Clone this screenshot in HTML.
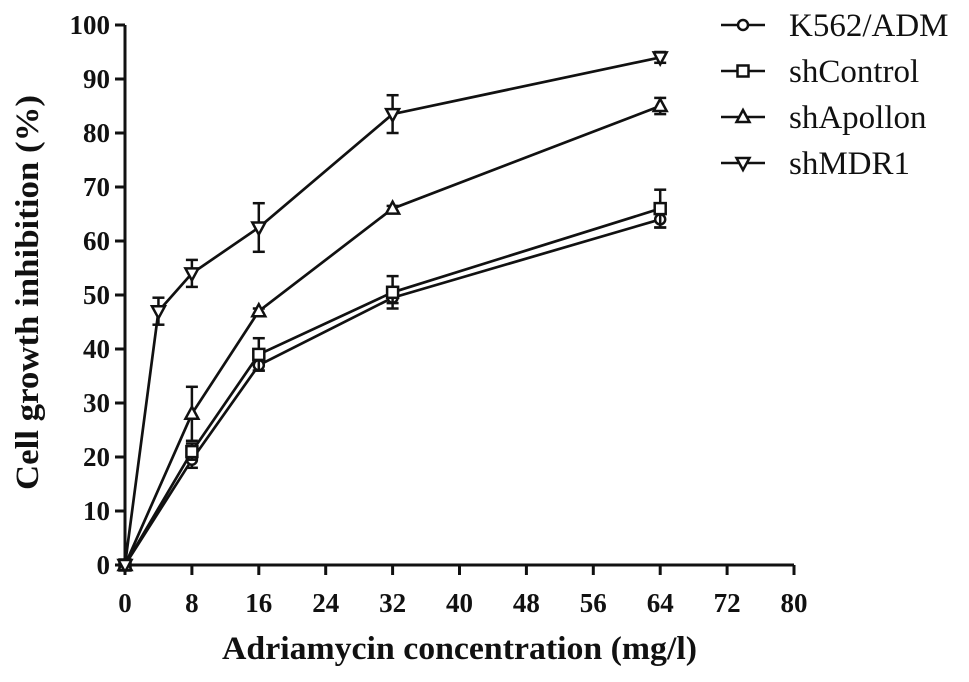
<!DOCTYPE html>
<html><head><meta charset="utf-8"><style>
body{margin:0;background:#fff;}
svg text{font-family:"Liberation Serif",serif;fill:#111;}
</style></head><body>
<svg id="chart" width="969" height="677" viewBox="0 0 969 677"></svg>
<script>
const xTicks=[0,8,16,24,32,40,48,56,64,72,80];
const yTicks=[0,10,20,30,40,50,60,70,80,90,100];
const seriesNames=["K562/ADM","shControl","shApollon","shMDR1"];
const markers=["circle","square","triangle","invtriangle"];
const k562X=[0,8,16,32,64], k562Y=[0,19.5,37,49.5,64], k562E=[0,1.5,1,1,1.5];
const ctrlX=[0,8,16,32,64], ctrlY=[0,21,39,50.5,66], ctrlE=[0,1.5,3,3,3.5];
const apoX=[0,8,16,32,64], apoY=[0,28,47,66,85], apoE=[0,5,0.5,0.5,1.5];
const mdrX=[0,4,8,16,32,64], mdrY=[0,47,54,62.5,83.5,94], mdrE=[0,2.5,2.5,4.5,3.5,1];
const allX=[k562X,ctrlX,apoX,mdrX], allY=[k562Y,ctrlY,apoY,mdrY], allE=[k562E,ctrlE,apoE,mdrE];
const svg=document.getElementById('chart');
const NS='http://www.w3.org/2000/svg';
const X0=125,X1=794,Y0=565,Y1=25;
const sx=v=>X0+(v-0)/80*(X1-X0);
const sy=v=>Y0-(v/100)*(Y0-Y1);
function mk(tag,attrs,parent){const e=document.createElementNS(NS,tag);for(const k in attrs)e.setAttribute(k,attrs[k]);(parent||svg).appendChild(e);return e;}
let ax=mk('line',{x1:X0,y1:Y0,x2:X1,y2:Y0,stroke:'#111','stroke-width':3});


let ay=mk('line',{x1:X0,y1:Y0,x2:X0,y2:Y1,stroke:'#111','stroke-width':3});


xTicks.forEach(t=>{
  mk('line',{x1:sx(t),y1:Y0,x2:sx(t),y2:Y0+10,stroke:'#111','stroke-width':3});
  const tx=mk('text',{x:sx(t),y:612,'text-anchor':'middle','font-size':27,'font-weight':'bold'});
  tx.textContent=t;
  
  
});
yTicks.forEach(t=>{
  mk('line',{x1:X0-10,y1:sy(t),x2:X0,y2:sy(t),stroke:'#111','stroke-width':3});
  const tx=mk('text',{x:X0-15,y:sy(t)+9,'text-anchor':'end','font-size':27,'font-weight':'bold'});
  tx.textContent=t;
  
  
});
let xt=mk('text',{x:222,y:659,'font-size':33,'font-weight':'bold',textLength:475,lengthAdjust:'spacingAndGlyphs'});
xt.textContent='Adriamycin concentration (mg/l)';


let yt=mk('text',{x:-197,y:0,'font-size':33,'font-weight':'bold',textLength:395,lengthAdjust:'spacingAndGlyphs',transform:'translate(38,95) rotate(-90)'});
yt.textContent='Cell growth inhibition (%)';


// place y title: rotated text starting at bottom (y=490) going up
yt.setAttribute('x',-395);
yt.setAttribute('transform','translate(38,95) rotate(-90)');
function marker(type,x,y,g){
  const a={fill:'#fff',stroke:'#111','stroke-width':2.5};
  if(type==='circle')return mk('circle',Object.assign({cx:x,cy:y,r:5},a),g);
  if(type==='square')return mk('rect',Object.assign({x:x-5.5,y:y-5.5,width:11,height:11},a),g);
  if(type==='triangle')return mk('polygon',Object.assign({points:`${x},${y-7} ${x-6.5},${y+5} ${x+6.5},${y+5}`},a),g);
  return mk('polygon',Object.assign({points:`${x},${y+7} ${x-6.5},${y-5} ${x+6.5},${y-5}`},a),g);
}
allX.forEach((xs,i)=>{
  const g=mk('g',{});
  
  
  mk('polyline',{points:xs.map((x,j)=>sx(x)+','+sy(allY[i][j])).join(' '),fill:'none',stroke:'#111','stroke-width':2.7},g);
  xs.forEach((x,j)=>{
    const e=allE[i][j];
    if(e>0){
      const px=sx(x),y1=sy(allY[i][j]+e),y2=sy(allY[i][j]-e);
      mk('line',{x1:px,y1:y1,x2:px,y2:y2,stroke:'#111','stroke-width':2.5},g);
      mk('line',{x1:px-6,y1:y1,x2:px+6,y2:y1,stroke:'#111','stroke-width':2.5},g);
      mk('line',{x1:px-6,y1:y2,x2:px+6,y2:y2,stroke:'#111','stroke-width':2.5},g);
    }
    const m=marker(markers[i],sx(x),sy(allY[i][j]),g);
    
    
  });
});
seriesNames.forEach((n,i)=>{
  const y=25+i*46;
  const g=mk('g',{});
  
  
  mk('line',{x1:721,y1:y,x2:765,y2:y,stroke:'#111','stroke-width':2.5},g);
  marker(markers[i],743,y,g);
  const t=mk('text',{x:789,y:y+11,'font-size':33},g);
  t.textContent=n;
});
</script>
</body></html>
